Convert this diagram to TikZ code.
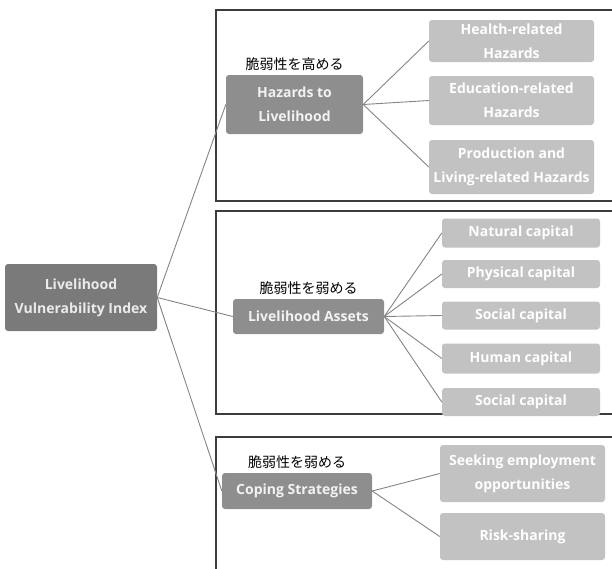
\documentclass[tikz,border=0pt]{standalone}
\usepackage{fontspec}
\setmainfont{Open Sans}
\newfontfamily\jpfont{Noto Sans CJK JP}
\usetikzlibrary{positioning}

\definecolor{rootgray}{HTML}{7A7A7A}
\definecolor{midgray}{HTML}{8E8E8E}
\definecolor{leafgray}{HTML}{C2C2C2}
\definecolor{linkgray}{HTML}{848484}
\definecolor{framegray}{HTML}{3C3C3C}

\tikzset{
  basebox/.style={rounded corners=3pt, align=center, inner sep=1pt,
    font=\bfseries\fontsize{14}{24}\selectfont},
  rootbox/.style={basebox, fill=rootgray, text=white!92!black,
    minimum width=152pt, minimum height=67pt},
  midbox/.style={basebox, fill=midgray, text=white!95!black},
  leafbox/.style={basebox, fill=leafgray, text=white},
  tag/.style={font=\jpfont\fontsize{14}{16}\selectfont, inner sep=1pt},
  link/.style={draw=linkgray, line width=0.9pt},
  groupframe/.style={draw=framegray, line width=1.1pt}
}

\begin{document}
\begin{tikzpicture}[x=1pt, y=-1pt]
  \useasboundingbox (0,0) rectangle (612,568);
  \clip (0,0) rectangle (612,568);

  % group frames
  \draw[groupframe] (216,10) rectangle (616,201);
  \draw[groupframe] (216,211) rectangle (616,414);
  \draw[groupframe] (216,437) rectangle (616,580);

  % root
  \node[rootbox] (lvi) at (81,297.5) {Livelihood\\Vulnerability Index};

  % hazards
  \node[midbox, minimum width=137pt, minimum height=59pt] (hazard) at (294.5,104.5) {Hazards to\\Livelihood};
  \node[tag, above=3pt of hazard] (hazardtag) {脆弱性を高める};
  \node[leafbox, minimum width=165pt, minimum height=42pt] (health) at (511.5,41) {Health-related\\Hazards};
  \node[leafbox, minimum width=165pt, minimum height=49pt] (educ) at (511.5,100.5) {Education-related\\Hazards};
  \node[leafbox, minimum width=165pt, minimum height=54pt] (prod) at (511.5,167) {Production and\\Living-related Hazards};

  % assets
  \node[midbox, minimum width=151pt, minimum height=35pt] (assets) at (308.5,316.5) {Livelihood Assets};
  \node[tag, above=3pt of assets] (assetstag) {脆弱性を弱める};
  \node[leafbox, minimum width=158pt, minimum height=29pt] (natural) at (521,233) {Natural capital};
  \node[leafbox, minimum width=158pt, minimum height=28pt] (physical) at (521,274) {Physical capital};
  \node[leafbox, minimum width=158pt, minimum height=28pt] (social) at (521,315.5) {Social capital};
  \node[leafbox, minimum width=158pt, minimum height=30pt] (human) at (521,358.5) {Human capital};
  \node[leafbox, minimum width=158pt, minimum height=28pt] (socialb) at (521,402) {Social capital};

  % coping
  \node[midbox, minimum width=150pt, minimum height=36pt] (coping) at (297,491) {Coping Strategies};
  \node[tag, above=3pt of coping] (copingtag) {脆弱性を弱める};
  \node[leafbox, minimum width=165pt, minimum height=57pt] (seeking) at (522.5,473.5) {Seeking employment\\opportunities};
  \node[leafbox, minimum width=165pt, minimum height=47pt] (risk) at (522.5,536.5) {Risk-sharing};

  % connectors
  \foreach \m in {hazard,assets,coping}
    \draw[link] (lvi.east) -- (\m.west);
  \foreach \l in {health,educ,prod}
    \draw[link] (hazard.east) -- (\l.west);
  \foreach \l in {natural,physical,social,human,socialb}
    \draw[link] (assets.east) -- (\l.west);
  \foreach \l in {seeking,risk}
    \draw[link] (coping.east) -- (\l.west);
\end{tikzpicture}
\end{document}
